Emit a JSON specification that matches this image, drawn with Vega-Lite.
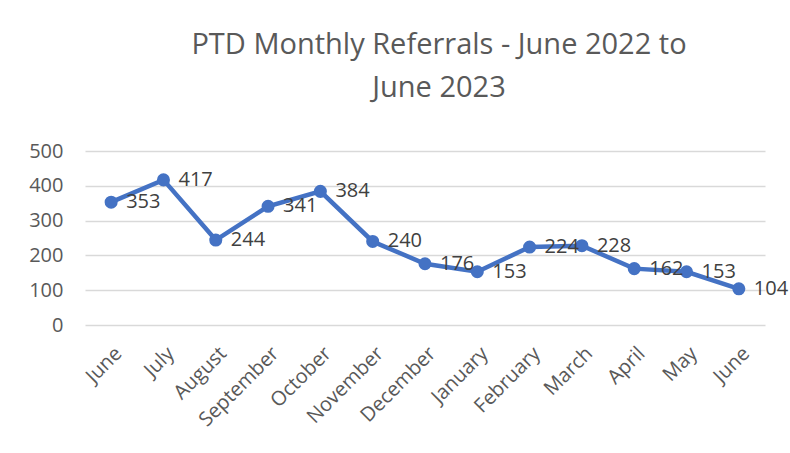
{
  "$schema": "https://vega.github.io/schema/vega-lite/v6.json",
  "width": 680,
  "height": 174,
  "autosize": {"type": "none"},
  "padding": {"left": 85, "top": 151, "right": 25, "bottom": 128},
  "background": "white",
  "title": {
    "text": ["PTD Monthly Referrals - June 2022 to", "June 2023"],
    "font": "Open Sans",
    "fontSize": 29,
    "fontWeight": "normal",
    "color": "#595959",
    "anchor": "middle",
    "dx": 14,
    "offset": 38,
    "lineHeight": 43
  },
  "config": {"view": {"stroke": null}},
  "data": {
    "values": [
      {"month": "June 2022", "referrals": 353},
      {"month": "July 2022", "referrals": 417},
      {"month": "August 2022", "referrals": 244},
      {"month": "September 2022", "referrals": 341},
      {"month": "October 2022", "referrals": 384},
      {"month": "November 2022", "referrals": 240},
      {"month": "December 2022", "referrals": 176},
      {"month": "January 2023", "referrals": 153},
      {"month": "February 2023", "referrals": 224},
      {"month": "March 2023", "referrals": 228},
      {"month": "April 2023", "referrals": 162},
      {"month": "May 2023", "referrals": 153},
      {"month": "June 2023", "referrals": 104}
    ]
  },
  "encoding": {
    "x": {
      "field": "month",
      "type": "ordinal",
      "sort": null,
      "axis": {
        "title": null,
        "labelExpr": "split(datum.label, ' ')[0]",
        "labelAngle": -45,
        "labelFont": "Open Sans",
        "labelFontSize": 20,
        "labelColor": "#595959",
        "labelPadding": 18,
        "domain": false,
        "ticks": false,
        "grid": false
      }
    },
    "y": {
      "field": "referrals",
      "type": "quantitative",
      "scale": {"domain": [0, 500], "nice": false},
      "axis": {
        "title": null,
        "values": [0, 100, 200, 300, 400, 500],
        "labelFont": "Open Sans",
        "labelFontSize": 20,
        "labelColor": "#595959",
        "labelPadding": 22,
        "domain": false,
        "ticks": false,
        "gridColor": "#D9D9D9",
        "gridWidth": 1.5
      }
    }
  },
  "layer": [
    {
      "mark": {
        "type": "line",
        "color": "#4472C4",
        "strokeWidth": 4.5,
        "point": {"filled": true, "size": 170, "color": "#4472C4", "opacity": 1}
      }
    },
    {
      "mark": {
        "type": "text",
        "align": "left",
        "baseline": "middle",
        "dx": 15,
        "font": "Open Sans",
        "fontSize": 20,
        "color": "#404040"
      },
      "encoding": {"text": {"field": "referrals", "type": "quantitative"}}
    }
  ]
}
